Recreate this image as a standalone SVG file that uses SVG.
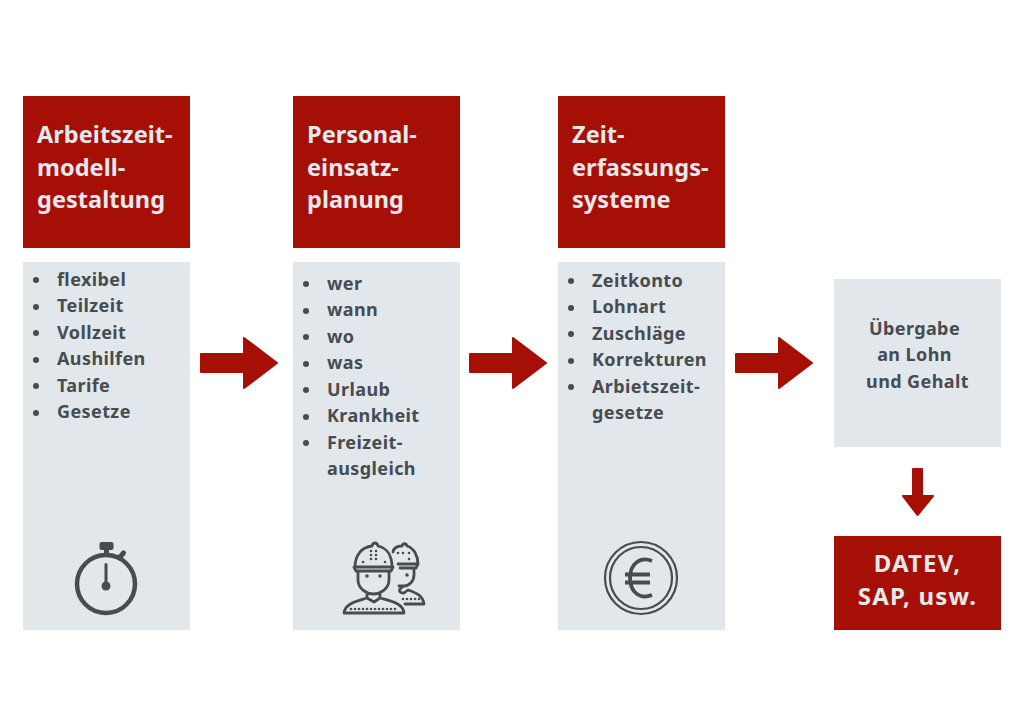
<svg xmlns="http://www.w3.org/2000/svg" width="1024" height="726" viewBox="0 0 1024 726">
<style>
.red{fill:#a60f05}.grey{fill:#e2e7eb}
text{font-family:"Noto Sans","Open Sans",sans-serif;font-weight:700}
.h{font-size:23.5px;fill:#e6e9ec;letter-spacing:.05px}
.b{font-size:18px;fill:#474c50;letter-spacing:.4px}
.c{font-size:18px;fill:#474c50;letter-spacing:.4px;text-anchor:middle}
.d{font-size:24px;fill:#e6e9ec;letter-spacing:1.2px;text-anchor:middle}
.dot{fill:#474c50}
.ln{fill:none;stroke:#474c50;stroke-linecap:round;stroke-linejoin:round}
.ar{fill:#a60f05;stroke:#a60f05;stroke-width:2;stroke-linejoin:round}
</style>
<rect width="1024" height="726" fill="#fff"/>
<g id="connectors">
<path id="arrow1" class="ar" d="M201 354H244V338L277 363L244 388V372H201Z"/>
<path id="arrow2" class="ar" d="M470 354H513V338L546 363L513 388V372H470Z"/>
<path id="arrow3" class="ar" d="M736 354H779V338L812 363L779 388V372H736Z"/>
<path id="arrow4" class="ar" d="M913 469H922V496H933L917.500 515L903 496H913Z"/>
</g>
<g id="node-arbeitszeit-head"><rect class="red" x="23" y="96" width="167" height="152"/>
<text class="h" x="37" y="143">Arbeitszeit-</text><text class="h" x="37" y="176">modell-</text><text class="h" x="37" y="208">gestaltung</text></g>
<g id="node-arbeitszeit-body"><rect class="grey" x="23" y="262" width="167" height="368"/>
<circle class="dot" cx="36" cy="280" r="3"/><text class="b" x="57" y="285.500">flexibel</text>
<circle class="dot" cx="36" cy="307" r="3"/><text class="b" x="57" y="312">Teilzeit</text>
<circle class="dot" cx="36" cy="333" r="3"/><text class="b" x="57" y="338.500">Vollzeit</text>
<circle class="dot" cx="36" cy="360" r="3"/><text class="b" x="57" y="365">Aushilfen</text>
<circle class="dot" cx="36" cy="386" r="3"/><text class="b" x="57" y="391.500">Tarife</text>
<circle class="dot" cx="36" cy="413" r="3"/><text class="b" x="57" y="418">Gesetze</text>
<g id="icon-stopwatch"><circle class="ln" cx="106" cy="584" r="29" stroke-width="4.500"/><rect class="dot" x="99.500" y="542" width="14" height="8" rx="2"/><rect class="dot" x="104" y="549" width="5" height="8"/><path class="ln" stroke-width="5" d="M120 557L123.500 553"/><path class="ln" stroke-width="3" d="M106 564.500V585"/><circle class="dot" cx="106" cy="586" r="4.500"/></g></g>
<g id="node-personal-head"><rect class="red" x="293" y="96" width="167" height="152"/>
<text class="h" x="307" y="143">Personal-</text><text class="h" x="307" y="176">einsatz-</text><text class="h" x="307" y="208">planung</text></g>
<g id="node-personal-body"><rect class="grey" x="293" y="262" width="167" height="368"/>
<circle class="dot" cx="306" cy="284" r="3"/><text class="b" x="327" y="289.500">wer</text>
<circle class="dot" cx="306" cy="311" r="3"/><text class="b" x="327" y="315.500">wann</text>
<circle class="dot" cx="306" cy="337" r="3"/><text class="b" x="327" y="342.500">wo</text>
<circle class="dot" cx="306" cy="364" r="3"/><text class="b" x="327" y="368.500">was</text>
<circle class="dot" cx="306" cy="390" r="3"/><text class="b" x="327" y="395.500">Urlaub</text>
<circle class="dot" cx="306" cy="417" r="3"/><text class="b" x="327" y="421.500">Krankheit</text>
<circle class="dot" cx="306" cy="443" r="3"/><text class="b" x="327" y="448.500">Freizeit-</text>
<text class="b" x="327" y="474.500">ausgleich</text>
<g id="icon-workers">
<path class="ln" stroke-width="2.800" d="M355 567C355 555 362 547 372 546C373 542 377 542 378 546C387 548 392 556 392 567M354 567H393L391 571H356ZM358 571V580C358 589 367 594 373.500 594C380 594 389 589 389 580V571M367 593V598L374 602L380 598V593M367 598C358 601 345 603 344 613H404C403 603 390 601 380 598"/>
<path class="ln" stroke-width="2.800" d="M393 552C394 547 398 546 402 546C403 543 406 543 407 546C414 548 418 556 418 564H398M418 564L416 568H400M414 568V575C414 581 409 586 404 586H399M404 586C397 590 399 593 404 593L408 590C417 593 423 596 424 604H405"/>
<g class="dot"><circle cx="367" cy="576" r="1.800"/><circle cx="380" cy="576" r="1.800"/><circle cx="407" cy="575" r="1.800"/>
<circle cx="371" cy="551" r="1.300"/><circle cx="376" cy="551" r="1.300"/><circle cx="371" cy="555" r="1.300"/><circle cx="376" cy="555" r="1.300"/><circle cx="371" cy="559" r="1.300"/><circle cx="376" cy="559" r="1.300"/><circle cx="363" cy="562" r="1.300"/><circle cx="385" cy="562" r="1.300"/><circle cx="398" cy="553" r="1.300"/><circle cx="403" cy="553" r="1.300"/><circle cx="409" cy="553" r="1.300"/><circle cx="409" cy="559" r="1.300"/><circle cx="351" cy="609" r="1.300"/><circle cx="355" cy="609" r="1.300"/><circle cx="359" cy="609" r="1.300"/><circle cx="363" cy="609" r="1.300"/><circle cx="367" cy="609" r="1.300"/><circle cx="371" cy="609" r="1.300"/><circle cx="375" cy="609" r="1.300"/><circle cx="379" cy="609" r="1.300"/><circle cx="383" cy="609" r="1.300"/><circle cx="387" cy="609" r="1.300"/><circle cx="391" cy="609" r="1.300"/><circle cx="395" cy="609" r="1.300"/><circle cx="403" cy="599" r="1.300"/><circle cx="407" cy="599" r="1.300"/><circle cx="411" cy="599" r="1.300"/><circle cx="415" cy="599" r="1.300"/><circle cx="419" cy="599" r="1.300"/></g></g></g>
<g id="node-zeit-head"><rect class="red" x="558" y="96" width="167" height="152"/>
<text class="h" x="572" y="143">Zeit-</text><text class="h" x="572" y="176">erfassungs-</text><text class="h" x="572" y="208">systeme</text></g>
<g id="node-zeit-body"><rect class="grey" x="558" y="262" width="167" height="368"/>
<circle class="dot" cx="571" cy="281" r="3"/><text class="b" x="592" y="286.500">Zeitkonto</text>
<circle class="dot" cx="571" cy="308" r="3"/><text class="b" x="592" y="313">Lohnart</text>
<circle class="dot" cx="571" cy="334" r="3"/><text class="b" x="592" y="339.500">Zuschläge</text>
<circle class="dot" cx="571" cy="361" r="3"/><text class="b" x="592" y="366">Korrekturen</text>
<circle class="dot" cx="571" cy="387" r="3"/><text class="b" x="592" y="392.500">Arbietszeit-</text>
<text class="b" x="592" y="419">gesetze</text>
<g id="icon-euro"><circle class="ln" cx="641" cy="578" r="36" stroke-width="2.200"/><circle class="ln" cx="641" cy="578" r="31" stroke-width="2.200"/>
<path class="ln" style="stroke-linecap:butt" stroke-width="3.800" d="M652 561C640 556 630 564 630 578C630 592 640 600 652 595M625 574.500H650M625 582.500H650"/></g></g>
<g id="node-uebergabe"><rect class="grey" x="834" y="279" width="167" height="168"/>
<text class="c" x="914.500" y="335">Übergabe</text><text class="c" x="914.500" y="361">an Lohn</text><text class="c" x="917.500" y="388">und Gehalt</text></g>
<g id="node-datev"><rect class="red" x="834" y="536" width="167" height="94"/>
<text class="d" x="917.500" y="571.500">DATEV,</text><text class="d" x="917.500" y="604.500">SAP, usw.</text></g>
</svg>
